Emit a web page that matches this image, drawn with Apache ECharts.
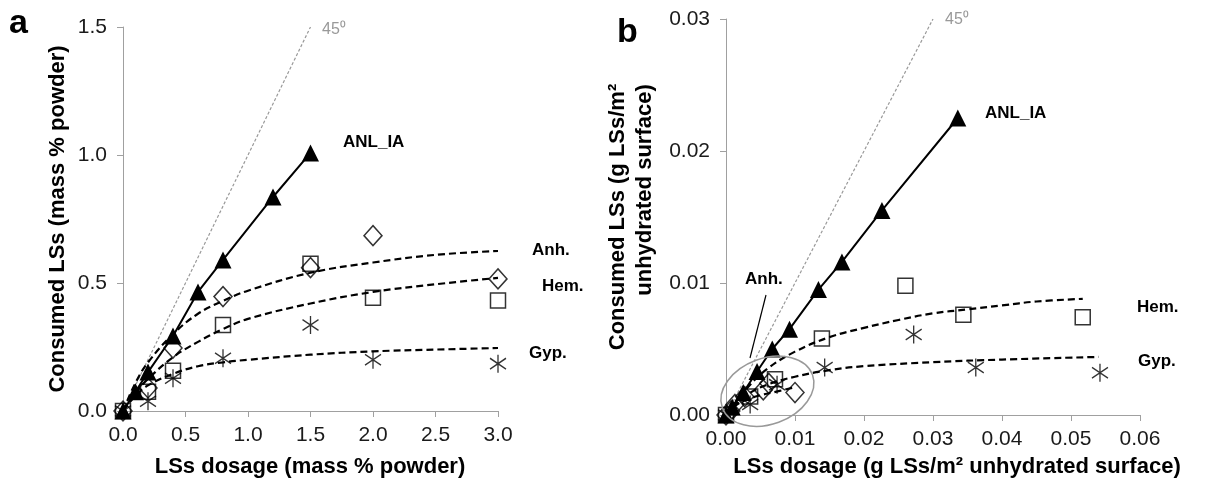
<!DOCTYPE html>
<html><head><meta charset="utf-8">
<script src="https://cdn.jsdelivr.net/npm/echarts@6/dist/echarts.min.js"></script>
<style>html,body{margin:0;padding:0;background:#fff}#c{width:1206px;height:488px}</style>
</head><body><div id="c"></div>
<script>
// ---------- Panel a (mass % powder) ----------
const aAnlX = [0, 0.1, 0.2, 0.4, 0.6, 0.8, 1.2, 1.5];
const aAnlY = [0, 0.075, 0.152, 0.293, 0.465, 0.59, 0.836, 1.008];
const aAnhX = [0, 0.2, 0.4, 0.8, 1.5, 2.0, 3.0];
const aAnhY = [0, 0.09, 0.246, 0.447, 0.56, 0.685, 0.516];
const aHemX = [0, 0.2, 0.4, 0.8, 1.5, 2.0, 3.0];
const aHemY = [0, 0.075, 0.157, 0.336, 0.575, 0.442, 0.432];
const aGypX = [0, 0.2, 0.4, 0.8, 1.5, 2.0, 3.0];
const aGypY = [0, 0.038, 0.128, 0.206, 0.336, 0.2, 0.185];
const aFitX = [0, 0.1, 0.2, 0.4, 0.6, 0.8, 1.0, 1.5, 2.0, 2.5, 3.0];
const aFitAnh = [0, 0.11, 0.19, 0.30, 0.38, 0.43, 0.47, 0.54, 0.58, 0.61, 0.625];
const aFitHem = [0, 0.07, 0.125, 0.21, 0.27, 0.32, 0.36, 0.42, 0.465, 0.495, 0.52];
const aFitGyp = [0, 0.06, 0.10, 0.145, 0.175, 0.19, 0.20, 0.22, 0.233, 0.24, 0.246];
const a45 = [0, 1.5];

// ---------- Panel b (g LSs/m2 unhydrated surface) ----------
const bAnlX = [0, 0.0009, 0.0025, 0.0045, 0.0067, 0.0092, 0.0134, 0.0168, 0.0226, 0.0336];
const bAnlY = [0, 0.0006, 0.0017, 0.0033, 0.0050, 0.0065, 0.0095, 0.0116, 0.0155, 0.0225];
const bAnhX = [0, 0.0007, 0.0013, 0.0027, 0.0054, 0.0062, 0.010];
const bAnhY = [0, 0.0003, 0.0008, 0.0014, 0.0019, 0.0024, 0.0017];
const bHemX = [0, 0.0035, 0.0071, 0.0139, 0.026, 0.0344, 0.0517];
const bHemY = [0, 0.0014, 0.0027, 0.0058, 0.0098, 0.0076, 0.0074];
const bGypX = [0, 0.0035, 0.0074, 0.0143, 0.0272, 0.0362, 0.0542];
const bGypY = [0, 0.0008, 0.0023, 0.0036, 0.0061, 0.0036, 0.0032];
const bFitAnhX = [0, 0.0007, 0.0013, 0.0027, 0.005, 0.0067, 0.010];
const bFitAnh = [0, 0.0004, 0.0007, 0.0011, 0.0015, 0.0017, 0.0021];
const bFitHemX = [0, 0.003, 0.006, 0.01, 0.015, 0.02, 0.025, 0.03, 0.035, 0.04, 0.045, 0.0517];
const bFitHem = [0, 0.002, 0.0035, 0.0048, 0.0059, 0.0066, 0.0072, 0.0077, 0.008, 0.0083, 0.0086, 0.0088];
const bFitGypX = [0, 0.003, 0.006, 0.01, 0.015, 0.02, 0.03, 0.04, 0.054];
const bFitGyp = [0, 0.0015, 0.0023, 0.0029, 0.0034, 0.0037, 0.004, 0.0042, 0.0044];
const b45 = [0, 0.03];

const zip = (x, y) => x.map((v, i) => [v, y[i]]);
const FONT = 'Liberation Sans, Arial, sans-serif';
const STAR = 'path://M0,-10L0,10M-8,-6L8,6M-8,6L8,-6';
const CLEAR = 'rgba(255,255,255,0)';

function axisX(grid, max, interval, dec) {
  return {
    type: 'value', gridIndex: grid, min: 0, max: max, interval: interval,
    splitLine: { show: false },
    axisLine: { show: true, lineStyle: { color: '#a0a0a0', width: 1 } },
    axisTick: { show: true, length: 6, lineStyle: { color: '#a0a0a0' } },
    axisLabel: { margin: 14, fontFamily: FONT, fontSize: 21, color: '#1a1a1a',
      formatter: v => v.toFixed(dec) }
  };
}
function axisY(grid, max, interval, dec) {
  const o = axisX(grid, max, interval, dec);
  o.axisLabel.margin = 16;
  return o;
}

function sets(xi, anl, anh, hem, gyp, fits, l45) {
  const out = [];
  out.push({ type: 'line', xAxisIndex: xi, yAxisIndex: xi, data: l45, symbol: 'none', silent: true,
    lineStyle: { color: '#999', width: 1.2, type: [3, 2] }, z: 1 });
  fits.forEach(f => out.push({ type: 'line', xAxisIndex: xi, yAxisIndex: xi, data: f, symbol: 'none',
    smooth: 0.4, clip: false, lineStyle: { color: '#000', width: 2.2, type: [7, 4] }, z: 2 }));
  out.push({ type: 'line', xAxisIndex: xi, yAxisIndex: xi, data: anl, symbol: 'triangle', symbolSize: 17,
    clip: false, itemStyle: { color: '#000' }, lineStyle: { color: '#000', width: 2 }, z: 4 });
  out.push({ type: 'scatter', xAxisIndex: xi, yAxisIndex: xi, data: anh, symbol: 'diamond', symbolSize: [18, 20],
    clip: false, itemStyle: { color: CLEAR, borderColor: '#000', borderWidth: 1.5 }, z: 3 });
  out.push({ type: 'scatter', xAxisIndex: xi, yAxisIndex: xi, data: hem, symbol: 'rect', symbolSize: 15,
    clip: false, itemStyle: { color: CLEAR, borderColor: '#000', borderWidth: 1.5 }, z: 3 });
  out.push({ type: 'scatter', xAxisIndex: xi, yAxisIndex: xi, data: gyp, symbol: STAR, symbolSize: [16, 18],
    clip: false, itemStyle: { color: CLEAR, borderColor: '#000', borderWidth: 1.4 }, z: 3 });
  return out;
}

const series = [].concat(
  sets(0, zip(aAnlX, aAnlY), zip(aAnhX, aAnhY), zip(aHemX, aHemY), zip(aGypX, aGypY),
    [zip(aFitX, aFitAnh), zip(aFitX, aFitHem), zip(aFitX, aFitGyp)], zip(a45, a45)),
  sets(1, zip(bAnlX, bAnlY), zip(bAnhX, bAnhY), zip(bHemX, bHemY), zip(bGypX, bGypY),
    [zip(bFitAnhX, bFitAnh), zip(bFitHemX, bFitHem), zip(bFitGypX, bFitGyp)], zip(b45, b45))
);

const T = (x, y, text, size, opt) => Object.assign({ type: 'text', x: x, y: y,
  style: Object.assign({ text: text, font: 'bold ' + size + 'px ' + FONT, fill: '#000',
    textAlign: 'left', textVerticalAlign: 'middle' }, opt || {}) });
const TITLE = (x, y, text, rot) => ({ type: 'text', x: x, y: y, rotation: rot ? Math.PI / 2 : 0,
  style: { text: text, font: 'bold 22px ' + FONT, fill: '#000', textAlign: 'center', textVerticalAlign: 'middle' } });

const chart = echarts.init(document.getElementById('c'), null, { renderer: 'canvas' });
chart.setOption({
  animation: false,
  backgroundColor: '#fff',
  grid: [
    { left: 123, top: 27, width: 375, height: 384 },
    { left: 726, top: 19, width: 414, height: 396 }
  ],
  xAxis: [axisX(0, 3, 0.5, 1), axisX(1, 0.06, 0.01, 2)],
  yAxis: [axisY(0, 1.5, 0.5, 1), axisY(1, 0.03, 0.01, 2)],
  series: series
});

const p = (g, v) => chart.convertToPixel({ gridIndex: g }, v);
const ec = p(1, [0.0060, 0.0018]);
const graphics = [
  T(9, 24, 'a', 34),
  T(617, 33, 'b', 34),
  TITLE(58, 219, 'Consumed LSs (mass % powder)', true),
  TITLE(310, 467, 'LSs dosage (mass % powder)', false),
  TITLE(618, 217, 'Consumed LSs (g LSs/m²', true),
  TITLE(645, 190, 'unhydrated surface)', true),
  TITLE(957, 467, 'LSs dosage (g LSs/m² unhydrated surface)', false),
  // annotations panel a
  T(322, 30, '45⁰', 16, { font: '16px ' + FONT, fill: '#999' }),
  T(343, 142, 'ANL_IA', 17),
  T(532, 250, 'Anh.', 17),
  T(542, 286, 'Hem.', 17),
  T(529, 353, 'Gyp.', 17),
  // annotations panel b
  T(945, 20, '45⁰', 16, { font: '16px ' + FONT, fill: '#999' }),
  T(985, 113, 'ANL_IA', 17),
  T(745, 279, 'Anh.', 17),
  T(1137, 307, 'Hem.', 17),
  T(1138, 361, 'Gyp.', 17),
  { type: 'line', shape: { x1: 766, y1: 295, x2: 750, y2: 358 }, style: { stroke: '#000', lineWidth: 1.2 } },
  { type: 'ellipse', x: ec[0], y: ec[1], rotation: 0.35,
    shape: { cx: 0, cy: 0, rx: 48, ry: 33 }, style: { fill: 'none', stroke: '#999', lineWidth: 1.5 }, z: 10 }
];
chart.setOption({ graphic: graphics });
</script></body></html>
